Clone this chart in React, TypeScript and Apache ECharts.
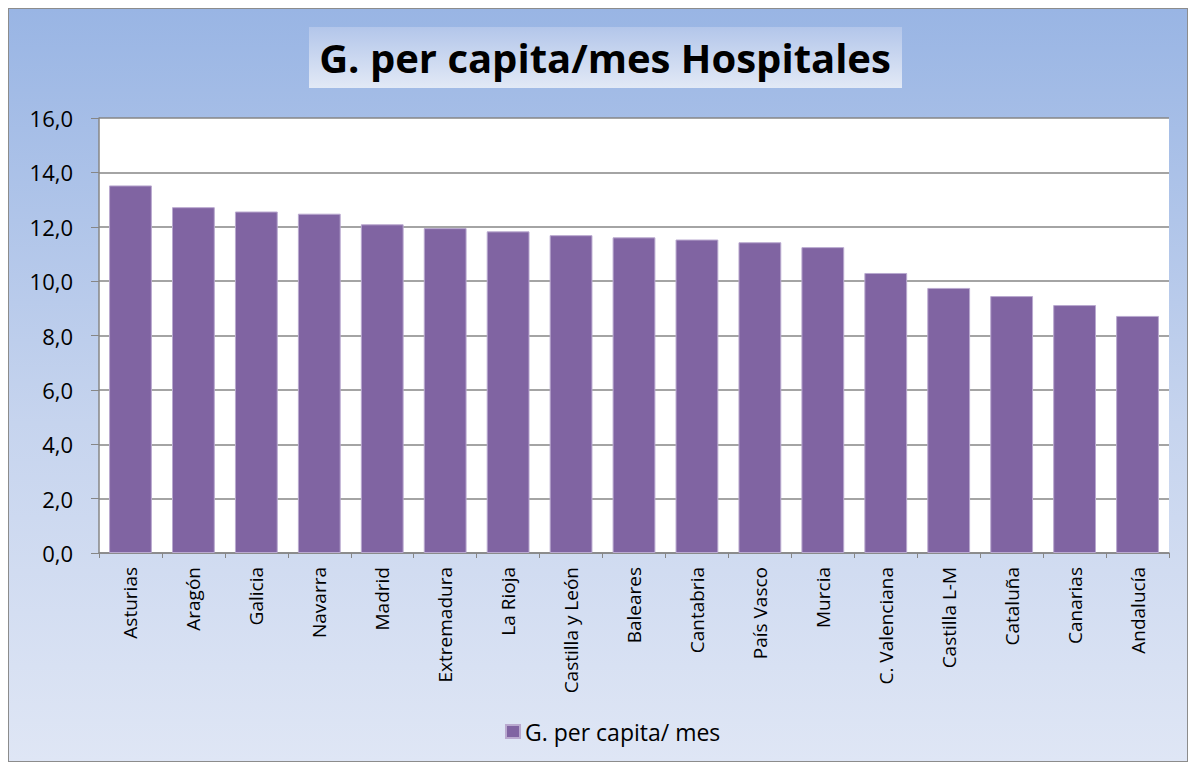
import React, { useEffect, useRef } from "react";
import * as echarts from "echarts";

const categories = [
  "Asturias", "Aragón", "Galicia", "Navarra", "Madrid", "Extremadura", "La Rioja",
  "Castilla y León", "Baleares", "Cantabria", "País Vasco", "Murcia", "C. Valenciana",
  "Castilla L-M", "Cataluña", "Canarias", "Andalucía",
];
const values = [13.52, 12.72, 12.56, 12.48, 12.09, 11.95, 11.83, 11.69, 11.61, 11.53, 11.43, 11.25, 10.3, 9.75, 9.45, 9.12, 8.72];
const seriesName = "G. per capita/ mes";
const titleText = "G. per capita/mes Hospitales";

export default function App() {
  const ref = useRef<HTMLDivElement>(null);
  useEffect(() => {
    if (!ref.current) return;
    const chart = echarts.init(ref.current, undefined, { renderer: "svg" });
    chart.setOption({
      animation: false,
      textStyle: { fontFamily: "Open Sans" },
      graphic: [
        {
          type: "rect",
          shape: { x: 300, y: 18, width: 593, height: 61 },
          style: {
            fill: new echarts.graphic.LinearGradient(0, 0, 0, 1, [
              { offset: 0, color: "#b3c6ea" },
              { offset: 1, color: "#e2e9f6" },
            ]),
          },
          z: 1,
        },
        {
          type: "text",
          x: 596,
          y: 48,
          style: {
            text: titleText,
            fontFamily: "Open Sans",
            fontWeight: "bold",
            fontSize: 40,
            fill: "#000",
            align: "center",
            verticalAlign: "middle",
          },
          z: 2,
        },
      ],
      legend: {
        bottom: 13,
        left: 491,
        itemWidth: 14,
        itemHeight: 13,
        itemGap: 6,
        icon: "rect",
        textStyle: { fontSize: 23, color: "#000", fontFamily: "Open Sans" },
        data: [seriesName],
      },
      grid: {
        left: 90,
        top: 109,
        right: 18,
        bottom: 208,
        show: true,
        backgroundColor: "#ffffff",
        borderWidth: 0,
      },
      xAxis: {
        type: "category",
        data: categories,
        axisLine: { lineStyle: { color: "#868686", width: 1.5 } },
        axisTick: { show: true, length: 5, lineStyle: { color: "#868686" } },
        axisLabel: {
          rotate: 90,
          interval: 0,
          fontSize: 19,
          color: "#000",
          margin: 14,
          fontFamily: "Open Sans",
        },
      },
      yAxis: {
        type: "value",
        min: 0,
        max: 16,
        interval: 2,
        axisLine: { show: true, lineStyle: { color: "#868686", width: 1.5 } },
        axisTick: { show: true, length: 8, lineStyle: { color: "#868686" } },
        splitLine: { lineStyle: { color: "#868686", width: 1.5 } },
        axisLabel: {
          fontSize: 22,
          color: "#000",
          margin: 26,
          fontFamily: "Open Sans",
          formatter: (v: number) => v.toFixed(1).replace(".", ","),
        },
      },
      series: [
        {
          name: seriesName,
          type: "bar",
          data: values,
          barCategoryGap: "32%",
          itemStyle: { color: "#8064a2", borderColor: "#b9a9cf", borderWidth: 1 },
        },
      ],
    });
    return () => chart.dispose();
  }, []);
  return (
    <div
      style={{
        width: 1180,
        height: 754,
        boxSizing: "border-box",
        border: "1px solid #8c8c8c",
        background: "linear-gradient(to bottom, #99b5e4 0%, #c6d4ee 55%, #dfe6f5 100%)",
      }}
    >
      <div ref={ref} style={{ width: 1178, height: 752 }} />
    </div>
  );
}
